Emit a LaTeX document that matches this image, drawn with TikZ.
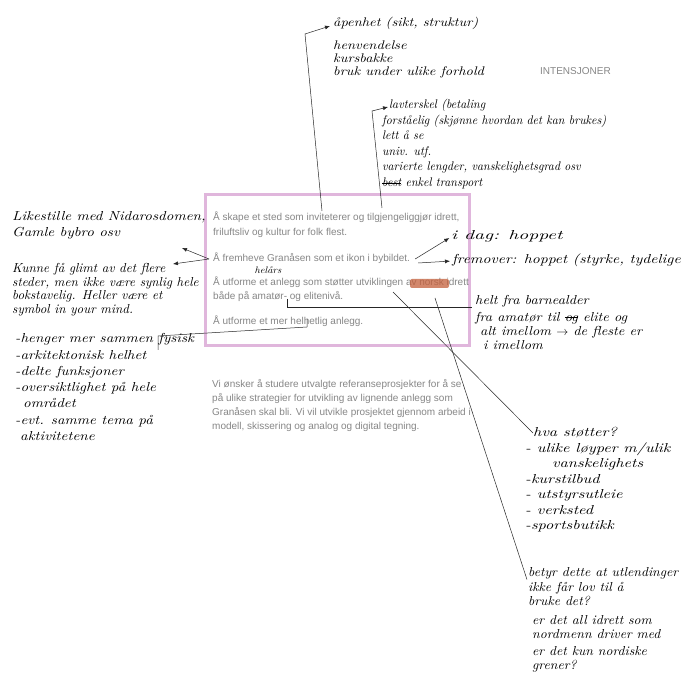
\documentclass[tikz,border=0pt]{standalone}
\usepackage{fontspec}
\newfontfamily\printfont{Liberation Sans}
\newfontfamily\handfont{lmroman10-italic.otf}
\usetikzlibrary{arrows.meta}
\definecolor{printgray}{RGB}{135,135,135}
\definecolor{framepink}{RGB}{224,182,220}
\definecolor{smudge}{RGB}{196,96,60}
\newsavebox\strikebox
\newcommand\struck[1]{\sbox\strikebox{#1}\rlap{\usebox\strikebox}\rule[0.25em]{\wd\strikebox}{0.7pt}}
\tikzset{hand/.style args={#1/#2/#3}{font=\handfont\fontsize{#1}{#2}\selectfont\addfontfeature{FakeStretch=#3},
   anchor=north west, inner sep=0pt, align=left, execute at begin node=\strut}}
\tikzset{printtext/.style={font=\printfont\fontsize{10}{14}\selectfont, text=printgray, inner sep=0pt}}
\tikzset{print/.style={printtext, anchor=west, text height=7.5pt, text depth=2.1pt}}
\tikzset{link/.style={draw=black!85, line width=0.5pt}}
\tikzset{pointer/.style={link, -{Latex[length=5pt,width=4pt]}}}

\begin{document}
\begin{tikzpicture}[x=1pt,y=-1pt]
  \useasboundingbox[fill=white] (0,0) rectangle (686,684);

  % the printed sheet
  \draw[framepink, line width=3pt] (205,195) rectangle (469,346);

  \node[print] (b1) at (213,218) {Å skape et sted som inviteterer og tilgjengeliggjør idrett,};
  \node[print] (b2) at (213,233) {friluftsliv og kultur for folk flest.};
  \node[print] (b3) at (213,259) {Å fremheve Granåsen som et ikon i bybildet.};
  \node[print] (b4) at (213,283) {Å utforme et anlegg som støtter utviklingen av norsk idrett};
  \node[print] (b5) at (213,297) {både på amatør- og elitenivå.};
  \node[print] (b6) at (213,322) {Å utforme et mer helhetlig anlegg.};
  \fill[smudge, opacity=.75, rounded corners=2pt] (410,279) rectangle (449,288);

  \node[printtext, anchor=north west, align=left, execute at begin node=\strut] (para) at (212,378.8)
    {Vi ønsker å studere utvalgte referanseprosjekter for å se\\
     på ulike strategier for utvikling av lignende anlegg som\\
     Granåsen skal bli. Vi vil utvikle prosjektet gjennom arbeid i\\
     modell, skissering og analog og digital tegning.};

  \node[print, font=\printfont\fontsize{10}{12}\selectfont] (title) at (540,72) {INTENSJONER};

  % handwritten notes
  \node[hand={12.5/13/1.15}] (t) at (333,16.9)
    {åpenhet (sikt, struktur)\\[10pt] henvendelse\\ kursbakke\\ bruk under ulike forhold};
  \node[hand={12.5/15.6/0.95}] (m) at (382,99)
    {\hspace{7pt}lavterskel (betaling\\ forståelig (skjønne hvordan det kan brukes)\\ lett å se\\
     univ. utf.\\ varierte lengder, vanskelighetsgrad osv\\ \struck{best} enkel transport};
  \node[hand={13/16/1.15}] (p) at (12,211.6) {Likestille med Nidarosdomen,\\ Gamle bybro osv};
  \node[hand={13/13.5/1}] (q) at (12,263.3)
    {Kunne få glimt av det flere\\ steder, men ikke være synlig hele\\
     bokstavelig. Heller være et\\ symbol in your mind.};
  \node[hand={13/16.3/1.15}] (r) at (15,333.4)
    {-henger mer sammen fysisk\\ -arkitektonisk helhet\\ -delte funksjoner\\
     -oversiktlighet på hele\\ \hspace{8pt}området\\ -evt. samme tema på\\ \hspace{5pt}aktivitetene};
  \node[hand={13/15/1.5}, anchor=west] (d) at (451,237) {i dag: hoppet};
  \node[hand={13/15/1.2}, anchor=west] (f) at (452,261) {fremover: hoppet (styrke, tydelige};
  \node[hand={13/14/1.1}] (h) at (475,294.7)
    {helt fra barnealder\\[3pt] fra amatør til \struck{og} elite og\\
     \hspace{5pt}alt imellom $\rightarrow$ de fleste er\\ \hspace{8pt}i imellom};
  \node[hand={13/15.5/1.25}] (s) at (525,427)
    {\hspace{8pt}hva støtter?\\ - ulike løyper m/ulik\\ \hspace{27pt}vanskelighets\\
     -kurstilbud\\ - utstyrsutleie\\ - verksted\\ -sportsbutikk};
  \node[hand={13/14.5/1.05}] (e) at (528,567.6)
    {betyr dette at utlendinger\\ ikke får lov til å\\ bruke det?\\[4pt]
     \hspace{4pt}er det all idrett som\\ \hspace{4pt}nordmenn driver med\\[2pt]
     \hspace{4pt}er det kun nordiske\\ \hspace{4pt}grener?};
  \node[hand={9.5/11/1.1}, anchor=center] (y) at (268,271) {helårs};

  % connectors
  \coordinate (s1) at (322,211);
  \coordinate (k1) at (305,34);
  \draw[pointer] (s1) -- (k1) -- ([shift={(-3,9.1)}]t.north west);

  \coordinate (s2) at (382,208);
  \coordinate (k2) at (372,111);
  \draw[pointer] (s2) -- (k2) -- ([shift={(6,8)}]m.north west);

  \coordinate (e3a) at (182,248);
  \coordinate (e3b) at (173,264);
  \draw[pointer] ([xshift=-4pt]b3.west) -- (e3a);
  \draw[pointer] ([xshift=-4pt]b3.west) -- (e3b);

  \draw[pointer, shorten >=2pt] ([xshift=5pt]b3.east) -- (d.west);
  \draw[pointer, shorten >=2pt] ([shift={(8,4)}]b3.east) -- (f.west);

  \coordinate (s6) at (287,299);
  \draw[link] (s6) |- ([shift={(-3,12.3)}]h.north west);

  \coordinate (s7) at (307,319);
  \coordinate (k7) at (158,336);
  \draw[link] (s7) -- ++(0,8) -- (k7) -- ++(0,14);

  \coordinate (s8) at (393,292);
  \draw[link] (s8) -- ([shift={(8,6)}]s.north west);
  \coordinate (s9) at (435,298);
  \draw[link] (s9) -- ([shift={(-1,12)}]e.north west);

\end{tikzpicture}
\end{document}
